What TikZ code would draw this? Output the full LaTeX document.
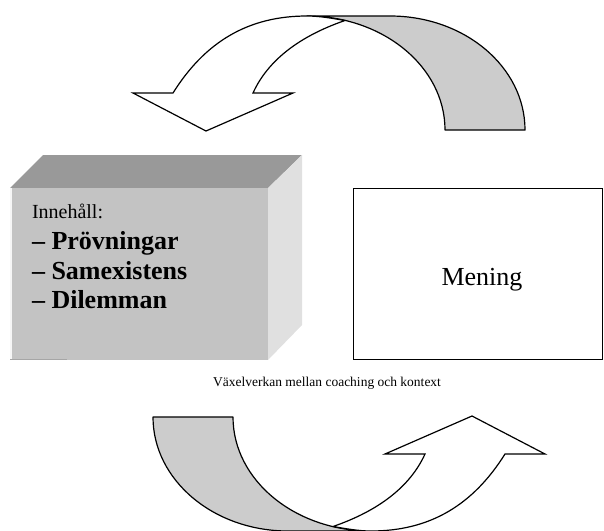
\documentclass[tikz,border=0pt]{standalone}
\usepackage{fontspec}
\setmainfont{Liberation Serif}
\definecolor{bandgrey}{HTML}{CCCCCC}
\definecolor{topgrey}{HTML}{999999}
\definecolor{frontgrey}{HTML}{C3C3C3}
\definecolor{sidegrey}{HTML}{E0E0E0}
\begin{document}
\begin{tikzpicture}[x=1pt,y=-1pt,
  band/.style={draw=black,fill=bandgrey,line width=1.2pt,line join=round},
  arrowshape/.style={draw=black,fill=white,line width=1.2pt,line join=miter},
  plain/.style={inner sep=0pt,outer sep=0pt},
  boldline/.style={plain,anchor=base west,font=\fontsize{26}{30}\selectfont\bfseries}]
\useasboundingbox (0,0) rectangle (604,530);
% ---- top curved arrow ----
\newcommand{\curvedarrow}{%
  \draw[band] (307,16) -- (390,16) .. controls (464.6,16) and (525,67) .. (525,130)
    -- (445,130) .. controls (445,67) and (383.2,16) .. (307,16) -- cycle;
  \draw[arrowshape] (173,93) .. controls (205,42) and (248,16) .. (307,16)
    .. controls (320,16) and (333,18.5) .. (345,20.5)
    .. controls (300,36) and (268,60) .. (253,93)
    -- (293,93) -- (206,131) -- (133,93) -- cycle;}
\curvedarrow
% ---- bottom curved arrow (rotated copy) ----
\begin{scope}[rotate around={180:(339,273.5)}]
\curvedarrow
\end{scope}
% ---- 3D box ----
\fill[topgrey] (10,188) -- (43,155) -- (302,155) -- (268,188) -- cycle;
\fill[sidegrey] (268,188) -- (302,155) -- (302,325) -- (268,360) -- cycle;
\fill[frontgrey] (10,188) rectangle (268,360);
\draw[white!85!frontgrey,line width=1.2pt] (11,188) -- (11,360);
\draw[frontgrey!85!black,line width=1pt] (10,359.5) -- (67,359.5);
\node[plain,anchor=base west,font=\fontsize{20}{24}\selectfont] (inh) at (32,218.5) {Innehåll:};
\node[boldline] (p1) at (32,249.5) {– Prövningar};
\node[boldline] (p2) at (32,279.5) {– Samexistens};
\node[boldline] (p3) at (32,308.5) {– Dilemman};
% ---- Mening box ----
\draw[line width=1.8pt] (353.5,188.5) rectangle (602.5,359.5);
\node[plain,anchor=base,font=\fontsize{26}{30}\selectfont] (men) at (482,285) {Mening};
% ---- caption ----
\node[plain,anchor=base,font=\fontsize{13.5}{16}\selectfont] (cap) at (327,386) {Växelverkan mellan coaching och kontext};
\end{tikzpicture}
\end{document}
